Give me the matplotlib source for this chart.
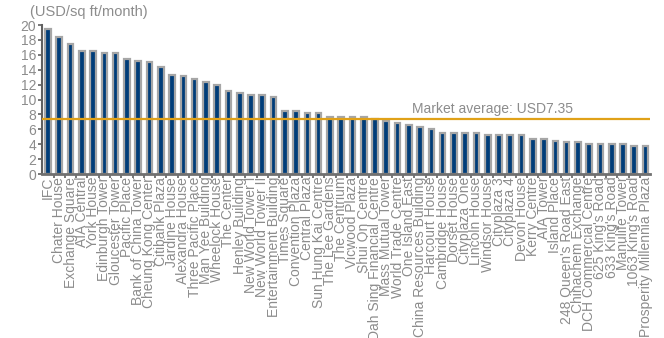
import matplotlib
matplotlib.use("Agg")
import matplotlib.pyplot as plt
import numpy as np

buildings = [
    "IFC", "Chater House", "Exchange Square", "AIA Central", "York House",
    "Edinburgh Tower", "Gloucester Tower", "Pacific Place", "Bank of China Tower",
    "Cheung Kong Center", "Citibank Plaza", "Jardine House", "Alexandra House",
    "Three Pacific Place", "Man Yee Building", "Wheelock House", "The Center",
    "Henley Building", "New World Tower I", "New World Tower II",
    "Entertainment Building", "Times Square", "Convention Plaza", "Central Plaza",
    "Sun Hung Kai Centre", "The Lee Gardens", "The Centrium", "Vicwood Plaza",
    "Shui On Centre", "Dah Sing Financial Centre", "Mass Mutual Tower",
    "World Trade Centre", "One Island East", "China Resources Building",
    "Harcourt House", "Cambridge House", "Dorset House", "Cityplaza One",
    "Lincoln House", "Windsor House", "Cityplaza 3", "Cityplaza 4", "Devon House",
    "Kerry Centre", "AIA Tower", "Island Place", "248 Queen's Road East",
    "Chinachem Exchange", "DCH Commercial Centre", "625 King's Road",
    "633 King's Road", "Manulife Tower", "1063 King's Road",
    "Prosperity Millennia Plaza",
]
rents = [
    19.4, 18.35, 17.5, 16.5, 16.5, 16.3, 16.3, 15.5, 15.2, 15.0,
    14.4, 13.3, 13.1, 12.8, 12.3, 12.0, 11.2, 10.85, 10.6, 10.6,
    10.3, 8.45, 8.45, 8.15, 8.15, 7.65, 7.65, 7.65, 7.65, 7.4,
    7.1, 6.85, 6.6, 6.3, 6.1, 5.5, 5.55, 5.55, 5.55, 5.3,
    5.3, 5.3, 5.3, 4.75, 4.75, 4.45, 4.25, 4.25, 4.0, 4.0,
    4.0, 4.0, 3.7, 3.7,
]
market_avg = 7.35
yticks = np.arange(0, 21, 2)

text_grey = "#8c8c8c"
plt.rcParams["font.family"] = ["Liberation Sans Narrow", "Liberation Sans", "DejaVu Sans"]

fig = plt.figure(figsize=(6.64, 3.38), dpi=100)
ax = fig.add_axes([0.063, 0.485, 0.916, 0.441])

x = np.arange(len(buildings))
ax.bar(x, rents, width=0.5, color="#003d79", edgecolor="#a6a6a6", linewidth=1.6, zorder=2)
ax.axhline(market_avg, color="#e0a118", lw=1.6, zorder=3)
ax.text(32.3, market_avg + 0.45, f"Market average: USD{market_avg}", color=text_grey,
        fontsize=10, ha="left", va="bottom")

ax.set_xlim(-0.55, 53.4)
ax.set_ylim(0, 20)
ax.set_yticks(yticks)
ax.set_xticks(x)
ax.set_xticklabels(buildings, rotation=90, fontsize=10, color=text_grey)
ax.tick_params(axis="x", which="major", length=0, pad=2)
ax.set_xticks(x[:-1] + 0.5, minor=True)
ax.tick_params(axis="x", which="minor", length=3, width=1.2, color="#606060", direction="out")
ax.tick_params(axis="y", labelsize=10, labelcolor=text_grey, length=3, width=1.2,
               color="#606060", pad=1)

for side in ["top", "right"]:
    ax.spines[side].set_visible(False)
ax.spines["left"].set_color("#606060")
ax.spines["left"].set_linewidth(1.5)
ax.spines["bottom"].set_color("#707070")
ax.spines["bottom"].set_linewidth(2)

fig.text(0.045, 0.965, "(USD/sq ft/month)", color=text_grey, fontsize=10.5, ha="left", va="center")

fig.savefig("out.png", dpi=100)
